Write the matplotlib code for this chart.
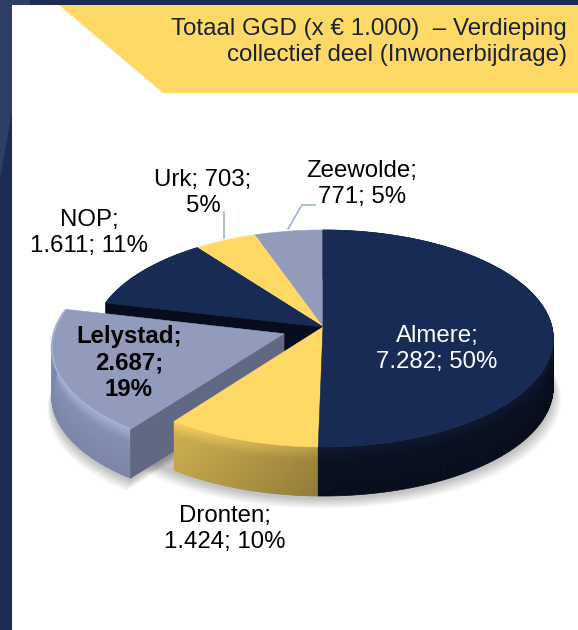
import numpy as np
import matplotlib
matplotlib.use('Agg')
import matplotlib.pyplot as plt
from matplotlib.collections import PolyCollection
from matplotlib.patches import Polygon

plt.rcParams['font.family'] = ['Liberation Sans', 'DejaVu Sans']

# data
names = ['Almere', 'Dronten', 'Lelystad', 'NOP', 'Urk', 'Zeewolde']
values = [7282, 1424, 2687, 1611, 703, 771]
labels = ['Almere;\n7.282; 50%', 'Dronten;\n1.424; 10%', 'Lelystad;\n2.687;\n19%',
          'NOP;\n1.611; 11%', 'Urk; 703;\n5%', 'Zeewolde;\n771; 5%']
title = 'Totaal GGD (x € 1.000)  – Verdieping\ncollectief deel (Inwonerbijdrage)'

NAVY = '#182B54'
YELLOW = '#FFD966'
GREY = '#929BBC'
top_colors = [NAVY, YELLOW, GREY, NAVY, YELLOW, GREY]
wall_top = ['#121f40', '#f5cf60', '#98a2c6', '#121f40', '#f5cf60', '#98a2c6']
wall_bottom = ['#0a1226', '#c3a54b', '#767f9f', '#0a1226', '#c3a54b', '#767f9f']

# projection of the pie (pixels)
CX, CY = 323, 327
A, B, K = 229, 107.3, 0.106
DEPTH = 49
EXPLODE = 0.18

fig = plt.figure(figsize=(5.78, 6.30), dpi=100)
ax = fig.add_axes([0, 0, 1, 1])
ax.set_xlim(0, 578)
ax.set_ylim(630, 0)
ax.axis('off')


def rgb(c):
    return np.array(matplotlib.colors.to_rgb(c))


def project(u, v, d=0.0):
    w = 1 + K * v
    return CX + A * u / w, CY - B * v / w + d * DEPTH


fracs = np.array(values) / sum(values)
edges = np.concatenate([[0], np.cumsum(fracs)]) * 2 * np.pi


def offset(i):
    if names[i] != 'Lelystad':
        return 0.0, 0.0
    mid = (edges[i] + edges[i + 1]) / 2
    return EXPLODE * np.sin(mid), EXPLODE * np.cos(mid)


def arc(i, n=80):
    th = np.linspace(edges[i], edges[i + 1], n)
    ou, ov = offset(i)
    return np.sin(th) + ou, np.cos(th) + ov


_z = [5]


def zo():
    _z[0] += 1
    return _z[0]


def draw_top(i):
    u, v = arc(i)
    ou, ov = offset(i)
    x, y = project(np.r_[ou, u], np.r_[ov, v])
    ax.add_patch(Polygon(np.c_[x, y], closed=True, fc=top_colors[i], ec=top_colors[i], lw=0.4, zorder=zo()))


def draw_wall(i):
    u, v = arc(i, 120)
    bands = np.linspace(0, 1, 26)
    quads, cols = [], []
    c0, c1 = rgb(wall_top[i]), rgb(wall_bottom[i])
    for j in range(len(u) - 1):
        light = np.clip(1.0 - 0.44 * (u[j] + 0.6), 0.7, 1.05)
        for a, b in zip(bands[:-1], bands[1:]):
            x1, y1 = project(u[j], v[j], a)
            x2, y2 = project(u[j + 1], v[j + 1], a)
            x3, y3 = project(u[j + 1], v[j + 1], b)
            x4, y4 = project(u[j], v[j], b)
            quads.append([(x1, y1), (x2, y2), (x3, y3), (x4, y4)])
            s = min(1, a / 0.3)
            t = 0.65 * s * s * (3 - 2 * s) + 0.35 * a
            cols.append(np.clip((c0 * (1 - t) + c1 * t) * light, 0, 1))
    ax.add_collection(PolyCollection(quads, facecolors=cols, edgecolors=cols, linewidths=0.5, zorder=zo()))


def draw_side(i, at, color):
    # straight cut face of a slice
    ou, ov = offset(i)
    x0, y0 = project(ou, ov)
    x1, y1 = project(np.sin(at) + ou, np.cos(at) + ov)
    pts = [(x0, y0), (x1, y1), (x1, y1 + DEPTH), (x0, y0 + DEPTH)]
    ax.add_patch(Polygon(pts, closed=True, fc=color, ec=color, lw=0.4, zorder=zo()))


# background
ax.add_patch(plt.Rectangle((0, 0), 12, 630, fc='#1E2B55', ec='none', zorder=1))
ax.add_patch(Polygon([(0, 0), (12, 0), (12, 112), (0, 179)], closed=True, fc='#2F3E66', ec='none', zorder=1))
ax.add_patch(plt.Rectangle((0, 0), 578, 5, fc='#1E2B55', ec='none', zorder=2))
ax.add_patch(plt.Rectangle((0, 0), 30, 5, fc='#2F3E66', ec='none', zorder=2))
ax.add_patch(Polygon([(59, 5), (578, 5), (578, 93), (163, 93)], closed=True, fc=YELLOW, ec='none', zorder=2))
ax.text(567, 42, title, ha='right', va='center', fontsize=17.4, color='#1a2238', linespacing=1.22, zorder=3)

# soft shadow below the pie
th = np.linspace(0, 2 * np.pi, 200)
for grow in np.linspace(0, 14, 15):
    x, y = project(np.sin(th), np.cos(th), 1)
    ax.fill(CX + (x - CX) * (1 + grow / 400), y + 3 + grow * 0.7, color='k', alpha=0.016, lw=0, zorder=4)
    ou, ov = offset(2)
    u, v = arc(2)
    x, y = project(np.r_[ou, u], np.r_[ov, v], 1)
    ax.fill(x - grow * 0.3, y + 3 + grow * 0.7, color='k', alpha=0.016, lw=0, zorder=4)

# back to front
for i in [5, 4, 3]:
    draw_top(i)
draw_side(3, edges[3], '#070d1e')
draw_top(3)
draw_wall(2)
draw_side(2, edges[2], '#616883')
draw_top(2)
u, v = arc(2)
x, y = project(u, v)
ax.plot(x, y, color='#a9b3d8', lw=1.6, alpha=0.8, solid_capstyle='butt', zorder=zo())
draw_wall(1)
draw_top(1)
draw_wall(0)
draw_top(0)

# leader lines
ax.plot([224, 224], [212, 238], color='#9DB0DC', lw=1.2, zorder=zo())
ax.plot([315, 302, 288], [205, 205, 229], color='#9DB0DC', lw=1.2, zorder=zo())

# labels
pos = [(437, 349), (225, 529), (129, 363), (89, 233), (203, 193), (362, 184)]
for i, (px, py) in enumerate(pos):
    ax.text(px, py, labels[i], ha='center', va='center', fontsize=17.3,
            color='white' if names[i] == 'Almere' else 'black',
            fontweight='bold' if names[i] == 'Lelystad' else 'normal',
            linespacing=1.2, zorder=100)

fig.savefig('out.png', dpi=100)
